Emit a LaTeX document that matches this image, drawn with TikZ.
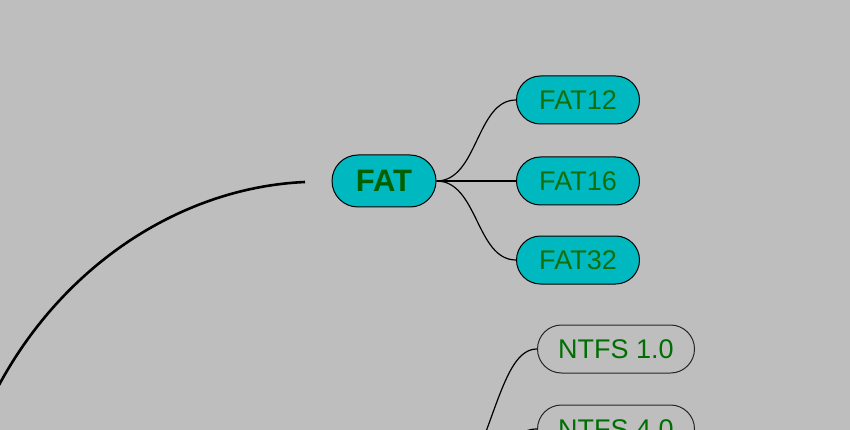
\documentclass[tikz,border=0pt]{standalone}
\usepackage{fontspec}
\setmainfont{Liberation Sans}
\usetikzlibrary{shapes.misc}
\definecolor{bggray}{RGB}{190,190,190}
\definecolor{fatcyan}{RGB}{0,184,192}
\definecolor{txtgreen}{RGB}{20,110,10}
\definecolor{boldgreen}{RGB}{0,95,0}
\definecolor{ntfsgreen}{RGB}{0,110,0}
\tikzset{
  rootbox/.style={rounded rectangle, draw=black, line width=1pt, fill=fatcyan,
    minimum width=104pt, minimum height=52pt, inner sep=0pt,
    font=\fontsize{31}{35}\selectfont\bfseries, text=boldgreen},
  fatbox/.style={rounded rectangle, draw=black, line width=1pt, fill=fatcyan,
    minimum width=123pt, minimum height=48pt, inner sep=0pt,
    font=\fontsize{27}{31}\selectfont, text=txtgreen},
  ntfsbox/.style={rounded rectangle, draw=black!85, line width=1pt, fill=bggray,
    minimum width=157pt, minimum height=48pt, inner sep=0pt,
    font=\fontsize{27}{31}\selectfont, text=ntfsgreen},
  link/.style={draw=black, line width=1.2pt},
  bigarc/.style={draw=black, line width=2.6pt}
}
\begin{document}
\begin{tikzpicture}[x=1pt,y=-1pt]
  \useasboundingbox (0,0) rectangle (850,430);
  \fill[bggray] (0,0) rectangle (850,430);
  \clip (0,0) rectangle (850,430);
  % nodes
  \node[rootbox] (fat) at (384,181) {FAT};
  \node[fatbox] (fat12) at (578,100) {FAT12};
  \node[fatbox] (fat16) at (578,181) {FAT16};
  \node[fatbox] (fat32) at (578,260) {FAT32};
  \node[ntfsbox] (ntfs1) at (616,349) {NTFS 1.0};
  \node[ntfsbox] (ntfs4) at (616,429) {NTFS 4.0};
  \coordinate (arcstart) at (305,182);
  \coordinate (arcend) at (-20,425);
  \coordinate (ntfsroot) at (445,520);
  % connectors
  \draw[link] (fat.east) .. controls (478,181) and (476,100) .. (fat12.west);
  \draw[link] (fat.east) -- (fat16.west);
  \draw[link] (fat.east) .. controls (478,181) and (476,260) .. (fat32.west);
  \draw[link] (ntfsroot) .. controls (495,440) and (500,349) .. (ntfs1.west);
  \draw[link] (ntfsroot) .. controls (500,470) and (505,429) .. (ntfs4.west);
  \draw[bigarc] (arcstart) .. controls (170,188) and (40,280) .. (arcend);
\end{tikzpicture}
\end{document}
